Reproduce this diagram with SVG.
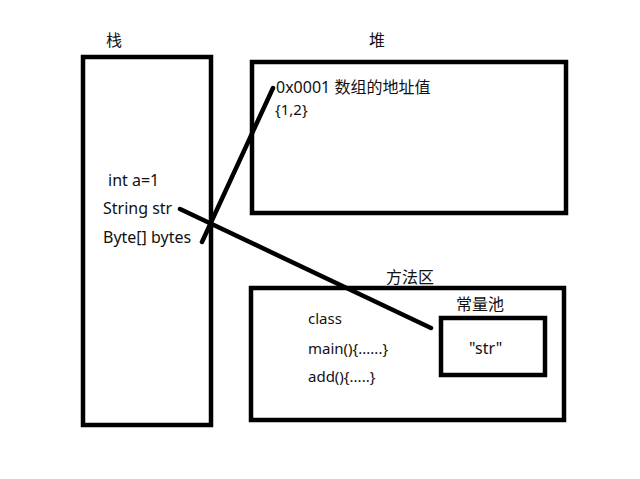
<svg xmlns="http://www.w3.org/2000/svg" width="640" height="479" viewBox="0 0 640 479">
<style>
.box{fill:none;stroke:#000;stroke-width:4.5}
.t{font-family:"Noto Sans","Noto Sans CJK SC",sans-serif;font-size:16px;fill:#111}
.s{font-size:15px}
.c{stroke:#000;stroke-width:4.5;stroke-linecap:round;fill:none}
</style>
<rect width="640" height="479" fill="#fff"/>
<g id="stack">
<rect class="box" x="83" y="57" width="128" height="368"/>
<text class="t" x="106" y="46">栈</text>
<text class="t" x="108" y="186">int a=1</text>
<text class="t" x="103" y="214">String str</text>
<text class="t" x="103" y="243">Byte[] bytes</text>
</g>
<g id="heap">
<rect class="box" x="252" y="62" width="314" height="151"/>
<text class="t" x="369" y="46">堆</text>
<text class="t" x="276" y="93">0x0001 数组的地址值</text>
<text class="t s" x="275" y="115">{1,2}</text>
</g>
<g id="method-area">
<rect class="box" x="251" y="288" width="313" height="132"/>
<text class="t" x="386" y="283">方法区</text>
<text class="t s" x="308" y="324">class</text>
<text class="t s" x="308" y="354">main(){......}</text>
<text class="t s" x="308" y="382">add(){.....}</text>
</g>
<g id="constant-pool">
<rect class="box" x="441" y="318" width="104" height="57"/>
<text class="t" x="456" y="310">常量池</text>
<text class="t" x="469" y="354">"str"</text>
</g>
<g id="connectors">
<line class="c" x1="273" y1="88" x2="202" y2="242"/>
<line class="c" x1="180" y1="209" x2="431" y2="328"/>
</g>
</svg>
